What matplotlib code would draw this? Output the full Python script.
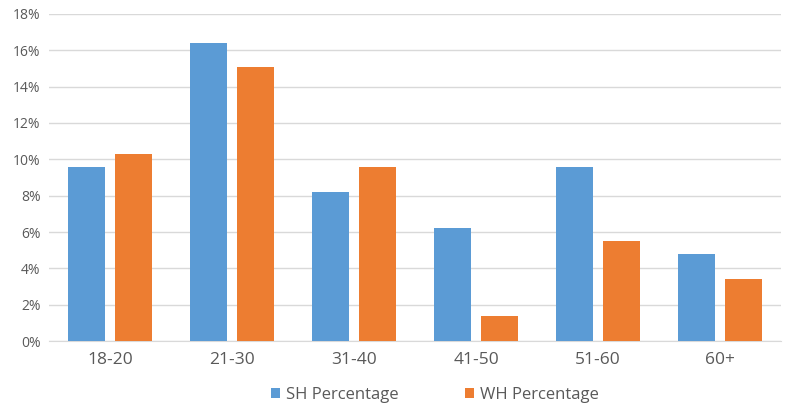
import numpy as np
import matplotlib.pyplot as plt
from matplotlib.ticker import FuncFormatter

categories = ['18-20', '21-30', '31-40', '41-50', '51-60', '60+']
sh_pct = [9.6, 16.4, 8.2, 6.2, 9.6, 4.8]
wh_pct = [10.3, 15.1, 9.6, 1.4, 5.5, 3.4]

plt.rcParams['font.family'] = ['Open Sans', 'DejaVu Sans']

fig = plt.figure(figsize=(7.89, 4.09), dpi=100)
ax = fig.add_axes([0.062, 0.166, 0.928, 0.8])

x = np.arange(len(categories))
w = 0.30
ax.bar(x - 0.193, sh_pct, w, color='#5b9bd5', label='SH Percentage', zorder=3)
ax.bar(x + 0.193, wh_pct, w, color='#ed7d31', label='WH Percentage', zorder=3)

ax.set_xlim(-0.5, len(categories) - 0.5)
ax.set_ylim(0, 18)
ax.set_yticks(range(0, 19, 2))
ax.yaxis.set_major_formatter(FuncFormatter(lambda v, p: f'{v:.0f}%'))
ax.set_xticks(x)
ax.set_xticklabels(categories)

ax.grid(axis='y', color='#d9d9d9', linewidth=1, zorder=0)
for s in ['top', 'right', 'left']:
    ax.spines[s].set_visible(False)
ax.spines['bottom'].set_color('#d9d9d9')
ax.tick_params(axis='both', length=0, colors='#595959')
ax.tick_params(axis='x', labelsize=12.5, pad=8)
ax.tick_params(axis='y', labelsize=10, pad=6)

ax.legend(loc='upper center', bbox_to_anchor=(0.527, -0.095), ncol=2, frameon=False,
          fontsize=12, handlelength=0.55, handleheight=0.55, columnspacing=4.0,
          handletextpad=0.35, labelcolor='#595959')

fig.savefig('out.png', dpi=100)
